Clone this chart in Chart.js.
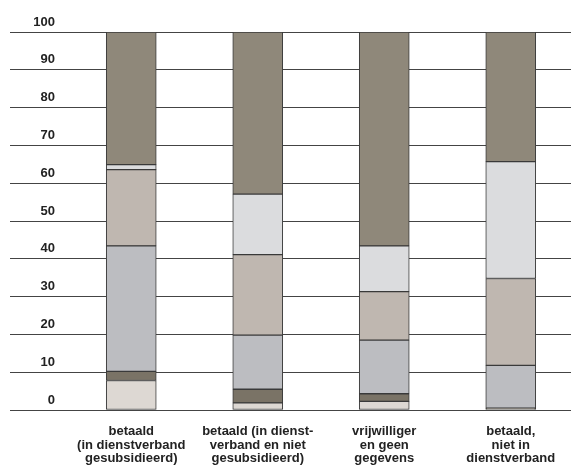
<!DOCTYPE html>
<html>
<head>
<meta charset="utf-8">
<script src="https://cdn.jsdelivr.net/npm/chart.js@4.4.1/dist/chart.umd.min.js"></script>
<style>
  html, body { margin: 0; padding: 0; background: #fff; overflow: hidden; }
  #wrap { width: 574px; height: 472px; }
</style>
</head>
<body>
<div id="wrap"><canvas id="chart"></canvas></div>
<script>
// categories (multi-line labels)
const categories = [
    ['betaald', '(in dienstverband', 'gesubsidieerd)'],
    ['betaald (in dienst-', 'verband en niet', 'gesubsidieerd)'],
    ['vrijwilliger', 'en geen', 'gegevens'],
    ['betaald,', 'niet in', 'dienstverband']
];

// stacked segments, bottom to top (percentages)
const segment1 = [7.8, 1.9, 2.3, 0];
const segment2 = [2.4, 3.6, 2.0, 0.5];
const segment3 = [33.2, 14.3, 14.2, 11.3];
const segment4 = [20.2, 21.3, 12.8, 23.0];
const segment5 = [1.3, 16.0, 12.1, 30.9];
const segment6 = [35.1, 42.9, 56.6, 34.3];

const yTicks = [0, 10, 20, 30, 40, 50, 60, 70, 80, 90, 100];

const fontFamily = "'Liberation Sans', Arial, sans-serif";

// draw the y tick labels just above each gridline
const yLabelPlugin = {
    id: 'yLabels',
    afterDraw(chart) {
        const ctx = chart.ctx;
        const y = chart.scales.y;
        ctx.save();
        ctx.font = 'bold 13px ' + fontFamily;
        ctx.fillStyle = '#222';
        ctx.textAlign = 'right';
        ctx.textBaseline = 'middle';
        yTicks.forEach(function (v) {
            ctx.fillText(String(v), 55, y.getPixelForValue(v) - 10);
        });
        ctx.restore();
    }
};

function seg(label, data, color) {
    return {
        label: label,
        data: data,
        backgroundColor: color,
        borderColor: '#3a3a3a',
        borderWidth: 1,
        borderSkipped: false,
        barThickness: 50
    };
}

new Chart(document.getElementById('chart').getContext('2d'), {
    type: 'bar',
    data: {
        labels: categories,
        datasets: [
            seg('segment 1', segment1, '#ddd8d3'),
            seg('segment 2', segment2, '#7a7366'),
            seg('segment 3', segment3, '#bcbdc1'),
            seg('segment 4', segment4, '#bfb7b0'),
            seg('segment 5', segment5, '#dbdcde'),
            seg('segment 6', segment6, '#8f887a')
        ]
    },
    options: {
        responsive: true,
        maintainAspectRatio: false,
        animation: false,
        layout: {
            padding: { left: 10, right: 0, top: 32, bottom: 0 }
        },
        scales: {
            x: {
                stacked: true,
                grid: { display: false },
                border: { display: false },
                ticks: {
                    autoSkip: false,
                    maxRotation: 0,
                    padding: 7,
                    color: '#222',
                    font: { family: fontFamily, size: 13, weight: 'bold', lineHeight: 1.04 }
                },
                afterFit: function (scale) { scale.height = 62; }
            },
            y: {
                stacked: true,
                min: 0,
                max: 100,
                ticks: { stepSize: 10, display: false },
                grid: {
                    color: '#444',
                    lineWidth: 1,
                    drawTicks: true,
                    tickLength: 58
                },
                border: { display: false }
            }
        },
        plugins: {
            legend: { display: false },
            tooltip: { enabled: false }
        }
    },
    plugins: [yLabelPlugin]
});
</script>
</body>
</html>
